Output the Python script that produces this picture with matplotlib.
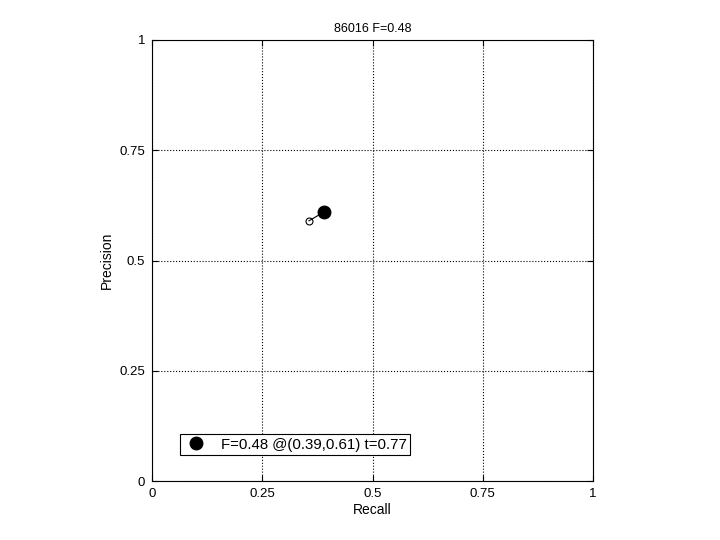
import matplotlib
matplotlib.use("Agg")
import matplotlib.pyplot as plt

plt.rcParams['font.family'] = ['Liberation Sans', 'DejaVu Sans']

recall = [0.356, 0.39]
precision = [0.59, 0.61]
best_r, best_p = 0.39, 0.61
title = "86016 F=0.48"
legend_label = "F=0.48 @(0.39,0.61) t=0.77"
ticks = [0, 0.25, 0.5, 0.75, 1]
tick_labels = ["0", "0.25", "0.5", "0.75", "1"]

fig = plt.figure(figsize=(7.2, 5.4), dpi=100)
ax = fig.add_axes([152/720, 59/540, 441/720, 441/540])
ax.plot(recall, precision, '-', color='black', lw=0.8)
ax.plot(recall[0], precision[0], 'o', mfc='none', mec='black', ms=5, mew=0.8)
ax.plot(best_r, best_p, 'o', color='black', ms=9, label=legend_label)
ax.set_xlim(0, 1)
ax.set_ylim(0, 1)
ax.set_xticks(ticks)
ax.set_xticklabels(tick_labels)
ax.set_yticks(ticks)
ax.set_yticklabels(tick_labels)
ax.tick_params(direction='in', top=True, right=True, labelsize=9.5, length=4)
ax.tick_params(axis='x', pad=5)
ax.tick_params(axis='y', pad=5)
ax.grid(True, linestyle=':', color='black', lw=0.8)
ax.set_xlabel("Recall", fontsize=10, labelpad=2)
ax.set_ylabel("Precision", fontsize=10, labelpad=4)
ax.set_title(title, fontsize=9, pad=6)
leg = ax.legend(loc='lower left', bbox_to_anchor=(0.064, 0.059), fontsize=10.8,
                fancybox=False, framealpha=1, edgecolor='black', handlelength=1.6,
                borderpad=0.22, handletextpad=0.9, borderaxespad=0, numpoints=1)
leg.get_frame().set_linewidth(0.8)
fig.savefig("out.png", dpi=100)
